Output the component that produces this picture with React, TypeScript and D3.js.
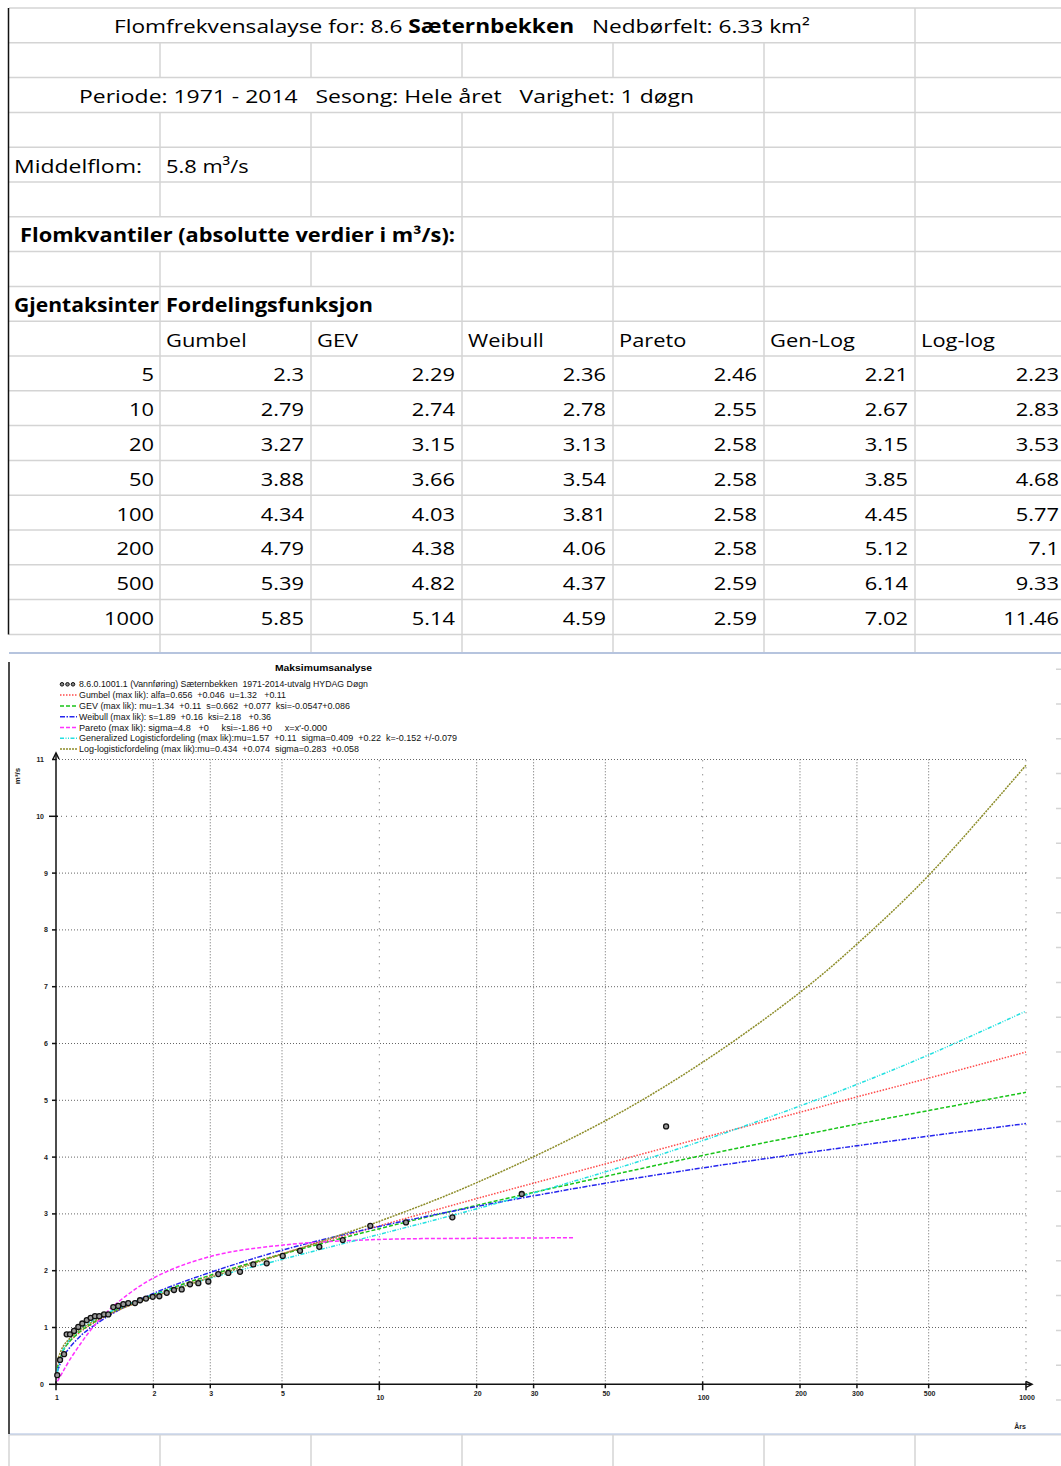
import React from 'react';
import * as d3 from 'd3';

// ---- table data ----
const tableHeaders = ['Gumbel', 'GEV', 'Weibull', 'Pareto', 'Gen-Log', 'Log-log'];
const tablePeriods = [5, 10, 20, 50, 100, 200, 500, 1000];
const tableGumbel = [2.3, 2.79, 3.27, 3.88, 4.34, 4.79, 5.39, 5.85];
const tableGev = [2.29, 2.74, 3.15, 3.66, 4.03, 4.38, 4.82, 5.14];
const tableWeibull = [2.36, 2.78, 3.13, 3.54, 3.81, 4.06, 4.37, 4.59];
const tablePareto = [2.46, 2.55, 2.58, 2.58, 2.58, 2.58, 2.59, 2.59];
const tableGenLog = [2.21, 2.67, 3.15, 3.85, 4.45, 5.12, 6.14, 7.02];
const tableLogLog = [2.23, 2.83, 3.53, 4.68, 5.77, 7.1, 9.33, 11.46];

// ---- chart data ----
const curvePeriods = [1.01, 1.05, 1.1, 1.2, 1.3, 1.5, 2, 3, 5, 10, 20, 50, 100, 200, 300, 500, 1000];
const gumbelCurve = [0.32, 0.59, 0.75, 0.94, 1.07, 1.26, 1.56, 1.91, 2.3, 2.79, 3.27, 3.88, 4.34, 4.79, 5.06, 5.39, 5.85];
const gevCurve = [0.28, 0.58, 0.75, 0.95, 1.08, 1.28, 1.58, 1.92, 2.29, 2.74, 3.15, 3.66, 4.03, 4.38, 4.58, 4.82, 5.14];
const weibullCurve = [0.23, 0.47, 0.64, 0.87, 1.02, 1.25, 1.6, 1.97, 2.36, 2.78, 3.13, 3.54, 3.81, 4.06, 4.2, 4.37, 4.59];
const genLogCurve = [0.22, 0.59, 0.78, 0.99, 1.12, 1.3, 1.57, 1.87, 2.2, 2.64, 3.09, 3.74, 4.29, 4.9, 5.28, 5.8, 6.57];
const logLogCurve = [0.42, 0.66, 0.8, 0.98, 1.1, 1.27, 1.54, 1.88, 2.29, 2.87, 3.55, 4.64, 5.67, 6.9, 7.75, 8.96, 10.9];
const paretoPeriods = [1.01, 1.05, 1.1, 1.2, 1.3, 1.5, 2, 3, 5, 10, 20, 40];
const paretoCurve = [0.05, 0.22, 0.42, 0.74, 1.0, 1.37, 1.87, 2.25, 2.45, 2.55, 2.57, 2.58];

const obsPeriods = [1.009, 1.029, 1.059, 1.079, 1.105, 1.137, 1.172, 1.206, 1.245, 1.28, 1.32, 1.361, 1.408, 1.451,
  1.504, 1.558, 1.615, 1.673, 1.755, 1.819, 1.898, 1.991, 2.087, 2.2, 2.317, 2.448, 2.597, 2.755, 2.959, 3.177,
  3.411, 3.708, 4.077, 4.484, 5.026, 5.684, 6.522, 7.705, 9.378, 12.09, 16.82, 27.57, 77.07];
const obsFlows = [0.16, 0.43, 0.53, 0.88, 0.88, 0.94, 1.01, 1.07, 1.13, 1.17, 1.2, 1.2, 1.23, 1.23,
  1.36, 1.38, 1.41, 1.43, 1.43, 1.48, 1.51, 1.54, 1.55, 1.61, 1.66, 1.67, 1.76, 1.78, 1.81, 1.94,
  1.96, 1.98, 2.11, 2.13, 2.26, 2.35, 2.42, 2.54, 2.79, 2.85, 2.94, 3.35, 4.54];

const xTicks = [1, 2, 3, 5, 10, 20, 30, 50, 100, 200, 300, 500, 1000];
const yTicks = [0, 1, 2, 3, 4, 5, 6, 7, 8, 9, 10, 11];

const legendLabels = [
  '8.6.0.1001.1 (Vannføring) Sæternbekken  1971-2014-utvalg HYDAG Døgn',
  'Gumbel (max lik): alfa=0.656  +0.046  u=1.32   +0.11',
  'GEV (max lik): mu=1.34  +0.11  s=0.662  +0.077  ksi=-0.0547+0.086',
  'Weibull (max lik): s=1.89  +0.16  ksi=2.18   +0.36',
  "Pareto (max lik): sigma=4.8   +0     ksi=-1.86 +0     x=x'-0.000",
  'Generalized Logisticfordeling (max lik):mu=1.57  +0.11  sigma=0.409  +0.22  k=-0.152 +/-0.079',
  'Log-logisticfordeling (max lik):mu=0.434  +0.074  sigma=0.283  +0.058',
];
const legendWidths = [289, 207, 271, 192, 248, 378, 280];

const series = [
  { periods: curvePeriods, values: gumbelCurve, color: '#ff4a4a', dash: '1.5,1.5' },
  { periods: curvePeriods, values: gevCurve, color: '#19c419', dash: '4,2' },
  { periods: curvePeriods, values: weibullCurve, color: '#2525ee', dash: '5,1.5,1.5,1.5' },
  { periods: paretoPeriods, values: paretoCurve, color: '#ff30ff', dash: '4,2' },
  { periods: curvePeriods, values: genLogCurve, color: '#22e0e0', dash: '4,1.5,1,1.5,1,1.5' },
  { periods: curvePeriods, values: logLogCurve, color: '#8c8c28', dash: '2,1' },
];

// ---- layout ----
const W = 1061;
const H = 1466;
const colEdges = [8, 160, 311, 462, 613, 764, 915, 1066];
const rowTop0 = 8;
const rowH = 34.8;
const rowTop = (i: number) => rowTop0 + i * rowH;
const base = (i: number) => rowTop(i + 1) - 9.5;
const sheetFont = "'Open Sans', sans-serif";
const chartFont = "'Liberation Sans', Arial, sans-serif";
const SX = 1.15;

// rows where some column lines are hidden by merged / overflowing text
const hiddenLines: Record<number, number[]> = {
  0: [160, 311, 462, 613, 764],
  2: [160, 311, 462, 613],
  6: [160, 311],
  8: [311],
};

const Cell = ({ x, y, anchor = 'start', bold = false, children }: any) => (
  <text transform={`translate(${x},${y}) scale(${SX},1)`} textAnchor={anchor}
    fontWeight={bold ? 700 : 400} style={{ whiteSpace: 'pre' }}>{children}</text>
);

const App = () => {
  const x = d3.scaleLog().domain([1, 1000]).range([56, 1026]);
  const y = d3.scaleLinear().domain([0, 11]).range([1384.3, 759.5]);
  const linePath = (periods: number[], values: number[]) =>
    d3.line<number>()
      .x((_, i) => x(periods[i]))
      .y(d => y(d))
      .curve(d3.curveCatmullRom.alpha(0.5))(values) || '';

  const tableCols = [tableGumbel, tableGev, tableWeibull, tablePareto, tableGenLog, tableLogLog];
  const nRows = 42;

  return (
    <svg width={W} height={H} style={{ position: 'absolute', left: 0, top: 0, background: '#fff' }}>
      {/* spreadsheet grid */}
      <g stroke="#d4d4d4" strokeWidth={1.5}>
        {d3.range(nRows).map(i => (
          <line key={'h' + i} x1={9} x2={W} y1={rowTop(i)} y2={rowTop(i)} />
        ))}
        {d3.range(nRows).map(i =>
          colEdges.slice(1, 7).filter(cx => !(hiddenLines[i] || []).includes(cx)).map(cx => (
            <line key={`v${i}-${cx}`} x1={cx} x2={cx} y1={rowTop(i)} y2={rowTop(i + 1)} />
          ))
        )}
        <line x1={9} x2={9} y1={1434} y2={H} />
      </g>
      <line x1={8.5} x2={8.5} y1={8} y2={rowTop(18)} stroke="#111" strokeWidth={1.5} />

      {/* spreadsheet text */}
      <g fontFamily={sheetFont} fontSize={19} fill="#000">
        <text x={462} y={base(0)} textAnchor="middle" textLength={696} lengthAdjust="spacingAndGlyphs" style={{ whiteSpace: 'pre' }}>
          Flomfrekvensalayse for: 8.6 <tspan fontWeight={700}>Sæternbekken</tspan>   Nedbørfelt: 6.33 km²
        </text>
        <text x={386.5} y={base(2)} textAnchor="middle" textLength={615} lengthAdjust="spacingAndGlyphs" style={{ whiteSpace: 'pre' }}>
          Periode: 1971 - 2014   Sesong: Hele året   Varighet: 1 døgn
        </text>
        <text x={14} y={base(4)} textLength={128} lengthAdjust="spacingAndGlyphs">Middelflom:</text>
        <Cell x={166} y={base(4)}>5.8 m³/s</Cell>
        <text x={20} y={base(6)} fontWeight={700} textLength={435} lengthAdjust="spacingAndGlyphs">
          Flomkvantiler (absolutte verdier i m³/s):
        </text>
        <text x={14} y={base(8)} fontWeight={700} textLength={145} lengthAdjust="spacingAndGlyphs">Gjentaksinter</text>
        <text x={166} y={base(8)} fontWeight={700} textLength={207} lengthAdjust="spacingAndGlyphs">Fordelingsfunksjon</text>
        {tableHeaders.map((h, c) => (
          <Cell key={h} x={colEdges[c + 1] + 6} y={base(9)}>{h}</Cell>
        ))}
        {tablePeriods.map((p, r) => (
          <g key={p}>
            <Cell x={colEdges[1] - 6} y={base(10 + r)} anchor="end">{p}</Cell>
            {tableCols.map((col, c) => (
              <Cell key={c} x={colEdges[c + 2] - 7} y={base(10 + r)} anchor="end">{String(col[r])}</Cell>
            ))}
          </g>
        ))}
      </g>

      {/* chart image frame */}
      <rect x={9} y={653} width={1047} height={781} fill="#fff" />
      <line x1={9} x2={W} y1={653} y2={653} stroke="#b6c4de" strokeWidth={2} />
      <line x1={9} x2={W} y1={1434} y2={1434} stroke="#c8d4ea" strokeWidth={1.5} />
      <line x1={9} x2={9} y1={662} y2={1434} stroke="#111" strokeWidth={1.5} />

      {/* chart */}
      <g fontFamily={chartFont}>
        <text x={323.5} y={671} textAnchor="middle" fontSize={9} fontWeight={700} textLength={97}
          lengthAdjust="spacingAndGlyphs">Maksimumsanalyse</text>

        {/* legend */}
        {legendLabels.map((lab, i) => {
          const ly = 684.3 + i * 10.8;
          return (
            <g key={i}>
              {i === 0
                ? [62, 67.5, 73].map(cx => (
                    <circle key={cx} cx={cx} cy={ly} r={1.8} fill="#888" stroke="#111" strokeWidth={1} />
                  ))
                : <line x1={60} x2={77} y1={ly} y2={ly} stroke={series[i - 1].color}
                    strokeWidth={1.5} strokeDasharray={series[i - 1].dash} />}
              <text x={79} y={ly + 3} fontSize={8.3} fill="#111" textLength={legendWidths[i]}
                lengthAdjust="spacingAndGlyphs" style={{ whiteSpace: 'pre' }}>{lab}</text>
            </g>
          );
        })}

        {/* grid */}
        <g stroke="#666" strokeWidth={1}>
          {yTicks.filter(v => v > 0).map(v => (
            <line key={'gy' + v} x1={x(1)} x2={x(1000)} y1={y(v)} y2={y(v)}
              strokeDasharray={v === 10 ? '1,4' : '1,2'} />
          ))}
          {xTicks.filter(t => t > 1).map(t => (
            <line key={'gx' + t} x1={x(t)} x2={x(t)} y1={y(0)} y2={y(11)}
              strokeDasharray={[10, 100, 1000].includes(t) ? '1,6' : '1,2'} />
          ))}
        </g>

        {/* axes */}
        <g stroke="#111" strokeWidth={1.5} fill="none">
          <line x1={x(1)} x2={x(1)} y1={y(0)} y2={753} />
          <path d={`M${x(1) - 3},759 L${x(1)},753 L${x(1) + 3},759`} />
          <line x1={x(1)} x2={1031} y1={y(0)} y2={y(0)} />
          <path d={`M1026,${y(0) - 3} L1032,${y(0)} L1026,${y(0) + 3}`} />
          {yTicks.map(v => (
            <line key={'ty' + v} x1={v % 10 === 0 ? 49 : 52} x2={v % 10 === 0 ? 58 : 56} y1={y(v)} y2={y(v)} />
          ))}
          {xTicks.map(t => {
            const major = [1, 10, 100, 1000].includes(t);
            return <line key={'tx' + t} x1={x(t)} x2={x(t)} y1={major ? y(0) - 3 : y(0)} y2={y(0) + (major ? 6 : 4)} />;
          })}
        </g>
        <g fontSize={7} fontWeight={700} fill="#222">
          {yTicks.map(v => (
            <text key={'ly' + v} x={v % 10 === 0 || v === 11 ? 44 : 48} y={y(v) + 2.5} textAnchor="end">{v}</text>
          ))}
          {xTicks.map(t => {
            const major = [1, 10, 100, 1000].includes(t);
            return <text key={'lx' + t} x={x(t) + 1} y={y(0) + (major ? 15.5 : 11.5)} textAnchor="middle">{t}</text>;
          })}
          <text transform="translate(20,776) rotate(-90)" textAnchor="middle" fontSize={8}>m³/s</text>
          <text x={1020} y={1429} textAnchor="middle" fontSize={7}>Års</text>
        </g>

        {/* fitted curves */}
        {series.map((s, i) => (
          <path key={i} d={linePath(s.periods, s.values)} fill="none" stroke={s.color}
            strokeWidth={1.5} strokeDasharray={s.dash} />
        ))}

        {/* observed floods */}
        {obsFlows.map((q, i) => (
          <circle key={i} cx={x(obsPeriods[i])} cy={y(q)} r={2.5} fill="#999" stroke="#111" strokeWidth={1.3} />
        ))}
      </g>
    </svg>
  );
};

export default App;
